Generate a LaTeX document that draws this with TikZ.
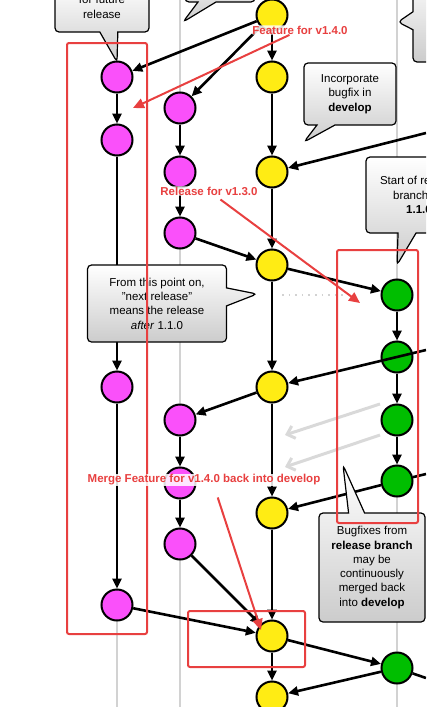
\documentclass[tikz,border=0pt]{standalone}
\usepackage{fontspec}
\setmainfont{Liberation Sans}
\usetikzlibrary{arrows.meta, shapes.callouts, positioning}
\definecolor{featcol}{RGB}{250,80,250}
\definecolor{devcol}{RGB}{255,236,20}
\definecolor{relcol}{RGB}{0,190,0}
\definecolor{markred}{RGB}{232,64,64}

\begin{document}
\begin{tikzpicture}[x=1pt, y=-1pt, >={Triangle[length=10pt,width=9pt]},
    font=\fontsize{11.5}{14.3}\selectfont,
    commit/.style={draw, circle, line width=2pt, minimum size=31pt, inner sep=0pt},
    feat/.style={commit, fill=featcol},
    dev/.style={commit, fill=devcol},
    rel/.style={commit, fill=relcol},
    flow/.style={line width=2.6pt, ->},
    lane/.style={gray!35, line width=1.6pt},
    note/.style={rectangle callout, draw, line width=1.2pt, rounded corners=4pt,
        top color=white, bottom color=gray!40, align=center, inner sep=4pt,
        callout pointer width=18pt},
    hint/.style={gray!30, line width=3pt, -{Straight Barb[length=7pt,width=13pt]}},
    redbox/.style={draw=markred, line width=2pt, rounded corners=2pt},
    marktext/.style={font=\fontsize{11.5}{13}\selectfont\bfseries, text=markred,
        fill=white, fill opacity=0.85, text opacity=1, rounded corners=3pt,
        inner xsep=1.5pt, inner ysep=0.5pt},
    markarrow/.style={markred, line width=2pt, -{Triangle[length=11pt,width=10pt]}}]
    \useasboundingbox (0,0) rectangle (426,707);
    \clip (0,0) rectangle (426,707);
    % lanes
    \foreach \x in {117,180,272,397}
        \draw[lane] (\x,0) -- (\x,707);
    \draw[lane, dash pattern=on 1.6pt off 5pt] (282,295) -- (345,295);
    % commits
    \foreach \n/\y in {1/15,2/77,3/172,4/265,5/387,6/513,7/636,8/697}
        \node[dev] (d\n) at (272,\y) {};
    \foreach \n/\y in {1/77,2/140,3/387,4/605}
        \node[feat] (fa\n) at (117,\y) {};
    \foreach \n/\y in {1/108,2/172,3/233,4/420,5/483,6/544}
        \node[feat] (fb\n) at (180,\y) {};
    \foreach \n/\y in {1/295,2/357,3/420,4/481,5/668}
        \node[rel] (r\n) at (397,\y) {};
    \coordinate (hd) at (426,133);
    \coordinate (hr1) at (426,350);
    \coordinate (hr2) at (426,474);
    \coordinate (hm) at (426,678);
    % develop
    \foreach \a/\b in {d1/d2,d2/d3,d3/d4,d4/d5,d5/d6,d6/d7,d7/d8}
        \draw[flow] (\a) -- (\b);
    % features
    \foreach \a/\b in {d1/fa1,fa1/fa2,fa2/fa3,fa3/fa4,fa4/d7,
                       d1/fb1,fb1/fb2,fb2/fb3,fb3/d4,d5/fb4,fb4/fb5,fb5/fb6,fb6/d7}
        \draw[flow] (\a) -- (\b);
    % release
    \foreach \a/\b in {d4/r1,r1/r2,r2/r3,r3/r4,r4/d6,d7/r5,r5/d8,hd/d3,hr1/d5}
        \draw[flow] (\a) -- (\b);
    \draw[line width=2.6pt] (hr2) -- (r4);
    \draw[line width=2.6pt] (r5) -- (hm);
    \draw[hint] (380,404) -- (285,435);
    \draw[hint] (380,435) -- (285,467);
    % notes
    \node[note, callout absolute pointer={(117,62)}, minimum width=94pt, minimum height=50pt] (fut) at (102,7) {for future\\release};
    \node[note, callout absolute pointer={(183,22)}, minimum width=70pt, minimum height=40pt] (top) at (220,-18) {};
    \node[note, callout absolute pointer={(398,22)}, minimum width=90pt, minimum height=90pt] (side) at (458,17) {};
    \node[note, callout absolute pointer={(304,142)}, minimum width=92pt, minimum height=62pt] (inc) at (350,94) {Incorporate\\bugfix in\\\textbf{develop}};
    \node[note, callout absolute pointer={(397,265)}, minimum width=106pt, minimum height=76pt] (start) at (419,195) {Start of release\\branch for\\\textbf{1.1.0}};
    \node[note, callout absolute pointer={(257,294)}, minimum width=139pt, minimum height=77pt] (next) at (157,303.5) {From this point on,\\"next release"\\means the release\\\textit{after} 1.1.0};
    \node[note, callout absolute pointer={(343,465)}, callout pointer width=16pt, minimum width=106pt, minimum height=109pt] (fix) at (372,567.5) {Bugfixes from\\\textbf{release branch}\\may be\\continuously\\merged back\\into \textbf{develop}};
    % red marks
    \draw[redbox] (67,43) rectangle (147,634);
    \draw[redbox] (337,250) rectangle (418,523);
    \draw[redbox] (188,611) rectangle (305,667);
    \node[marktext] (lfeat) at (300,30) {Feature for v1.4.0};
    \node[marktext] (lrel) at (209,191) {Release for v1.3.0};
    \node[marktext] (lmerge) at (204,480) {Merge Feature for v1.4.0 back into develop};
    \coordinate (tfeat) at (133,108);
    \coordinate (trel) at (360,303);
    \coordinate (tmerge) at (261,630);
    \draw[markarrow] (lfeat) -- (tfeat);
    \draw[markarrow, shorten <=6pt] (lrel) -- (trel);
    \draw[markarrow, shorten <=12pt] ([xshift=10pt]lmerge.south) -- (tmerge);
\end{tikzpicture}
\end{document}
